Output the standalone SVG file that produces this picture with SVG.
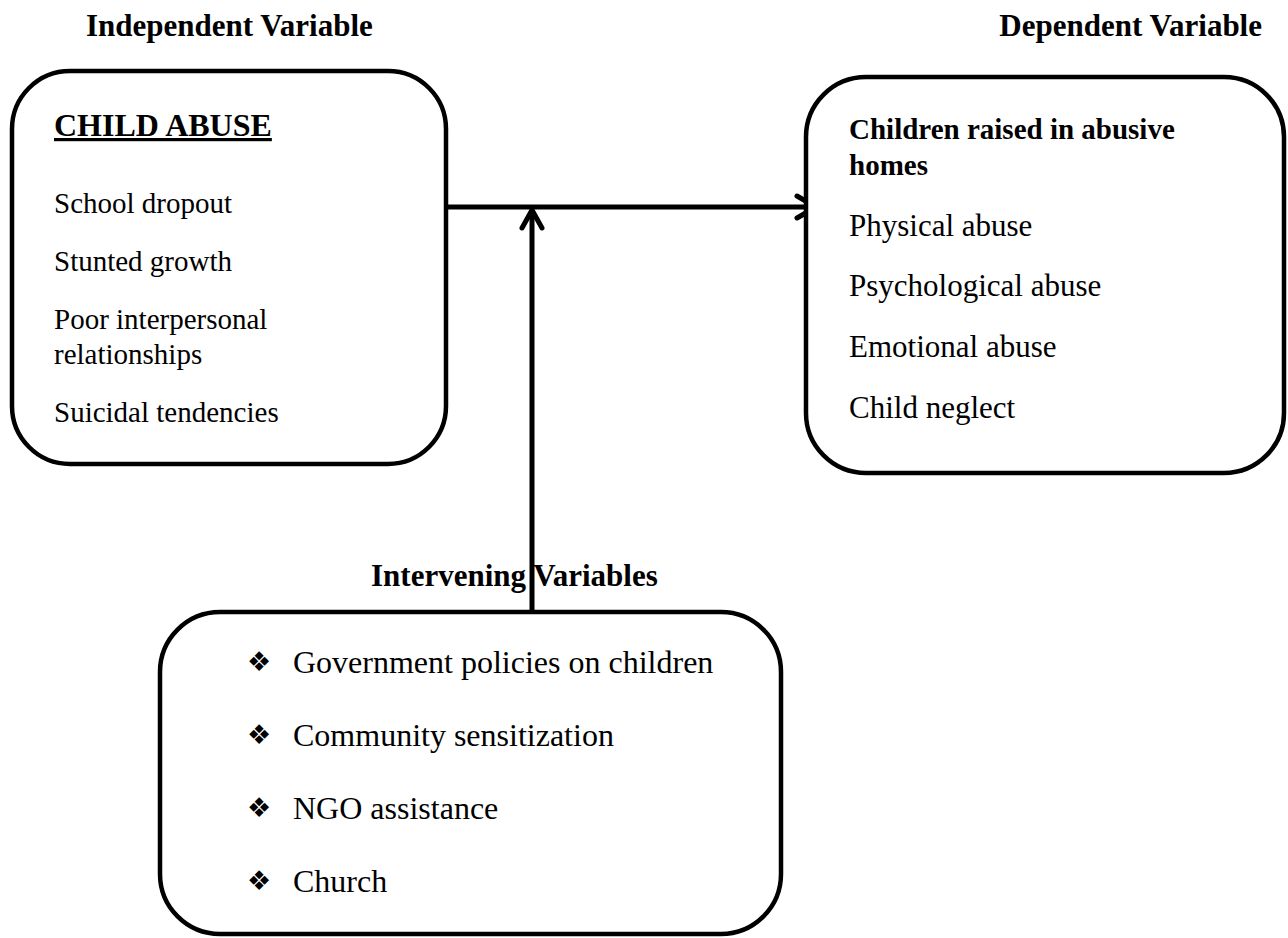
<svg xmlns="http://www.w3.org/2000/svg" width="1288" height="938" viewBox="0 0 1288 938">
<style>
.box{fill:#fff;stroke:#000;stroke-width:4.5}
.t{font-family:"Liberation Serif","Times New Roman",serif;fill:#000}
.h{font-weight:bold;font-size:31px}
.lb{font-size:29px}
.rb{font-size:31px}
.bb{font-size:32px}
.bul{font-family:"DejaVu Sans",sans-serif;font-size:27px;fill:#000}
.con{fill:none;stroke:#000;stroke-width:5;stroke-linecap:round;stroke-linejoin:round}
</style>
<rect width="1288" height="938" fill="#fff"/>
<g id="headers">
<text class="t h" x="86" y="36">Independent Variable</text>
<text class="t h" x="1262" y="36" text-anchor="end">Dependent Variable</text>
</g>
<g id="connectors">
<line class="con" x1="447" y1="207" x2="815" y2="207" style="stroke-linecap:butt"/>
<polyline class="con" points="797,196 816,207 797,218"/>
<line class="con" x1="532" y1="612" x2="532" y2="211" style="stroke-linecap:butt"/>
<polyline class="con" points="522,228 532,210 542,228"/>
</g>
<g id="independent">
<rect class="box" x="12" y="71" width="434" height="393" rx="58"/>
<text class="t h" x="54" y="136" style="font-size:32px;text-decoration:underline">CHILD ABUSE</text>
<text class="t lb" x="54" y="213">School dropout</text>
<text class="t lb" x="54" y="271">Stunted growth</text>
<text class="t lb" x="54" y="329">Poor interpersonal</text>
<text class="t lb" x="54" y="364">relationships</text>
<text class="t lb" x="54" y="422">Suicidal tendencies</text>
</g>
<g id="dependent">
<rect class="box" x="806" y="77" width="478" height="396" rx="60"/>
<text class="t" x="849" y="139" style="font-size:29px;font-weight:bold">Children raised in abusive</text>
<text class="t" x="849" y="175" style="font-size:29px;font-weight:bold">homes</text>
<text class="t rb" x="849" y="236">Physical abuse</text>
<text class="t rb" x="849" y="296">Psychological abuse</text>
<text class="t rb" x="849" y="357">Emotional abuse</text>
<text class="t rb" x="849" y="418">Child neglect</text>
</g>
<g id="intervening">
<text class="t h" x="371" y="586">Intervening Variables</text>
<rect class="box" x="160" y="612" width="621" height="322" rx="60"/>
<text class="bul" x="247" y="671">❖</text>
<text class="t bb" x="293" y="673">Government policies on children</text>
<text class="bul" x="247" y="744">❖</text>
<text class="t bb" x="293" y="746">Community sensitization</text>
<text class="bul" x="247" y="817">❖</text>
<text class="t bb" x="293" y="819">NGO assistance</text>
<text class="bul" x="247" y="890">❖</text>
<text class="t bb" x="293" y="892">Church</text>
</g>
</svg>
